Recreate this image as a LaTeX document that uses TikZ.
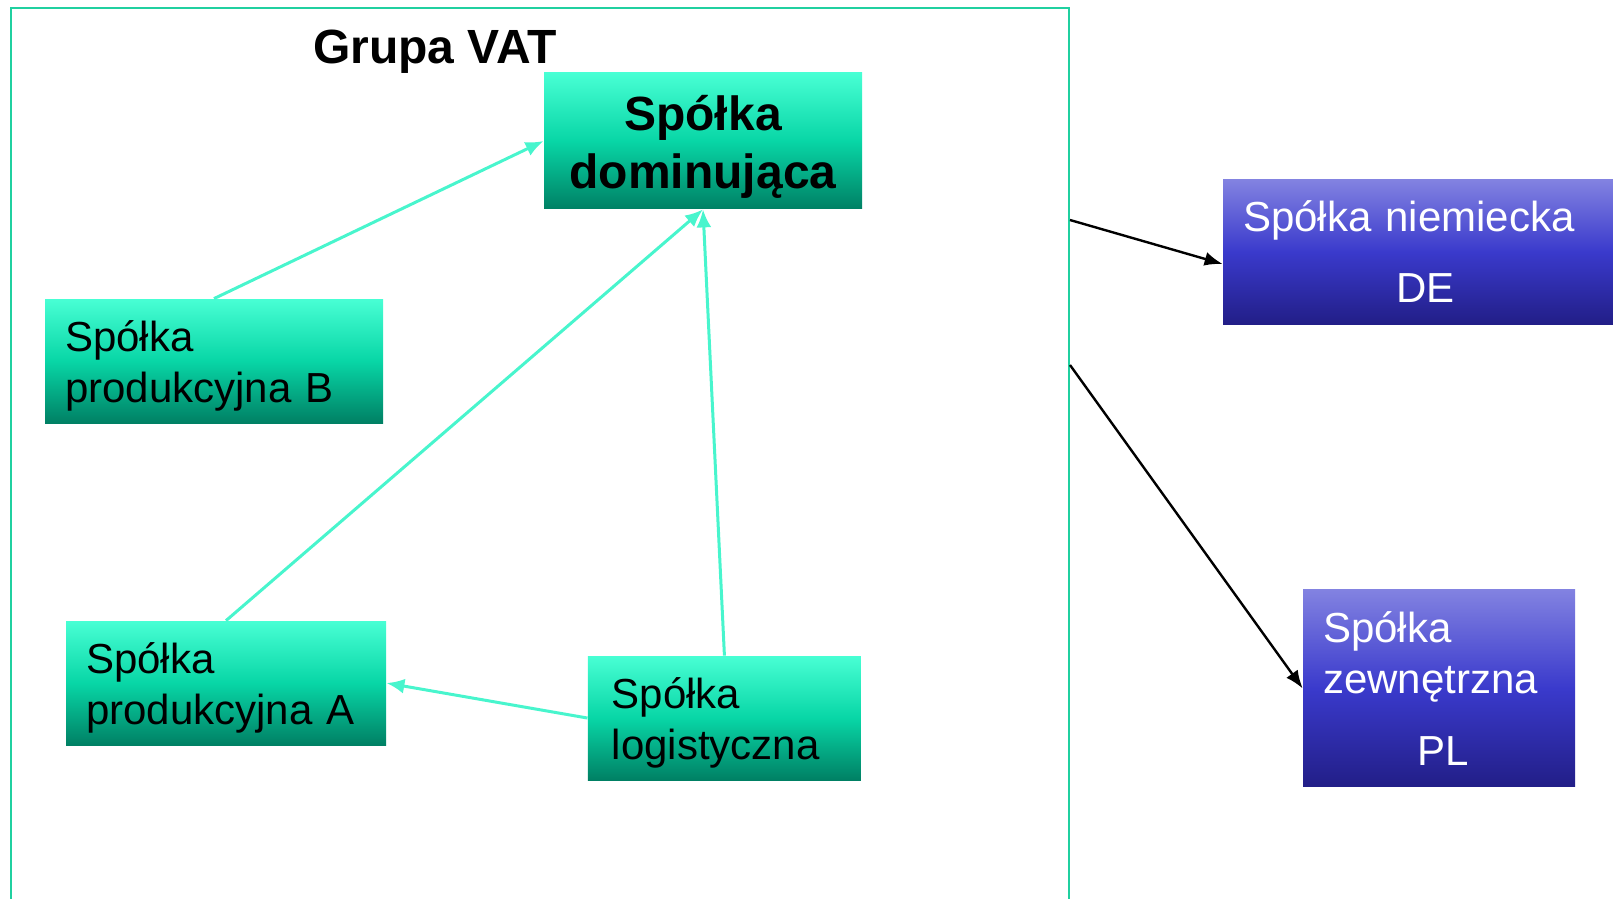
\documentclass[tikz,border=0pt]{standalone}
\usepackage{fontspec}
\setmainfont{Liberation Sans}
\usepackage{tikz}
\usetikzlibrary{arrows,arrows.meta,positioning}
\definecolor{aquaTop}{RGB}{72,255,212}
\definecolor{aquaMid}{RGB}{8,214,166}
\definecolor{aquaBot}{RGB}{0,128,100}
\definecolor{blueTop}{RGB}{130,130,225}
\definecolor{blueMid}{RGB}{58,58,204}
\definecolor{blueBot}{RGB}{34,30,135}
\definecolor{aquaLine}{RGB}{72,245,205}
\definecolor{frameTeal}{RGB}{32,208,160}
\newcommand{\topstrut}[1]{\rule{0pt}{#1}}
\tikzstyle{block} = [rectangle, inner xsep=10pt, inner ysep=0pt,
    top color=aquaTop, bottom color=aquaBot, middle color=aquaMid,
    align=left, minimum height=62pt, font=\fontsize{21}{25.5}\selectfont]
\tikzstyle{foreign} = [block, top color=blueTop, bottom color=blueBot,
    middle color=blueMid, text=white]
\tikzstyle{frame} = [rectangle, draw=frameTeal, line width=1pt, inner sep=0pt]
\tikzstyle{line} = [draw, aquaLine, line width=1.5pt, -{Latex[length=9pt,width=7.5pt]}]
\tikzstyle{link} = [draw, black, line width=1.2pt, -{Latex[length=9pt,width=7pt]}]

\begin{document}
\begin{tikzpicture}[node distance=4cm, x=1pt, y=1pt]
    \useasboundingbox (0,0) rectangle (806.5,-449.5);
    \clip (0,0) rectangle (806.5,-449.5);
    % Place nodes
    \node [frame, anchor=north west, minimum width=529pt, minimum height=496pt] (grupa) at (5,-3.5) {};
    \node [block, text width=139pt, align=center, minimum height=68pt,
        font=\fontsize{24}{29}\selectfont\bfseries] (dom) at (351.5,-70.5) {\topstrut{23pt}Spółka\\dominująca};
    \node [left of=dom, xshift=-20.2pt, yshift=44.85pt, inner sep=0pt,
        font=\fontsize{24}{28}\selectfont\bfseries] (title) {Grupa VAT};
    \node [block, text width=149pt, below of=dom, xshift=-244.5pt, yshift=3.8pt] (prodB) {\topstrut{20.5pt}Spółka\\produkcyjna B};
    \node [block, text width=140pt, below of=prodB, xshift=6pt, yshift=-47.2pt] (prodA) {\topstrut{20.5pt}Spółka\\produkcyjna A};
    \node [block, text width=112.5pt, inner xsep=12pt, right of=prodA, xshift=135.4pt, yshift=-17.5pt] (logist) {\topstrut{20.5pt}Spółka\\logistyczna};
    \node [foreign, text width=175pt, minimum height=72pt, right of=dom, xshift=243.7pt, yshift=-55.5pt] (niem)
        {Spółka niemiecka\\[10pt]\hspace*{76.5pt}DE};
    \node [foreign, text width=116pt, minimum height=98.5pt, below of=niem, xshift=10.5pt, yshift=-104.4pt] (zew)
        {Spółka\\zewnętrzna\\[10.5pt]\hspace*{47pt}PL};
    \coordinate (deOut) at ([yshift=-106.5pt]grupa.north east);
    \coordinate (plOut) at ([yshift=-179pt]grupa.north east);
    % Draw edges
    \path [line] (prodB.north) -- (dom.west);
    \path [line] (prodA.north) -- (dom.south);
    \path [line] (logist.north) -- (dom.south);
    \path [line] (logist.west) -- (prodA.east);
    \path [link] (deOut) -- ([yshift=-6pt]niem.west);
    \path [link] (plOut) -- (zew.west);
\end{tikzpicture}
\end{document}
